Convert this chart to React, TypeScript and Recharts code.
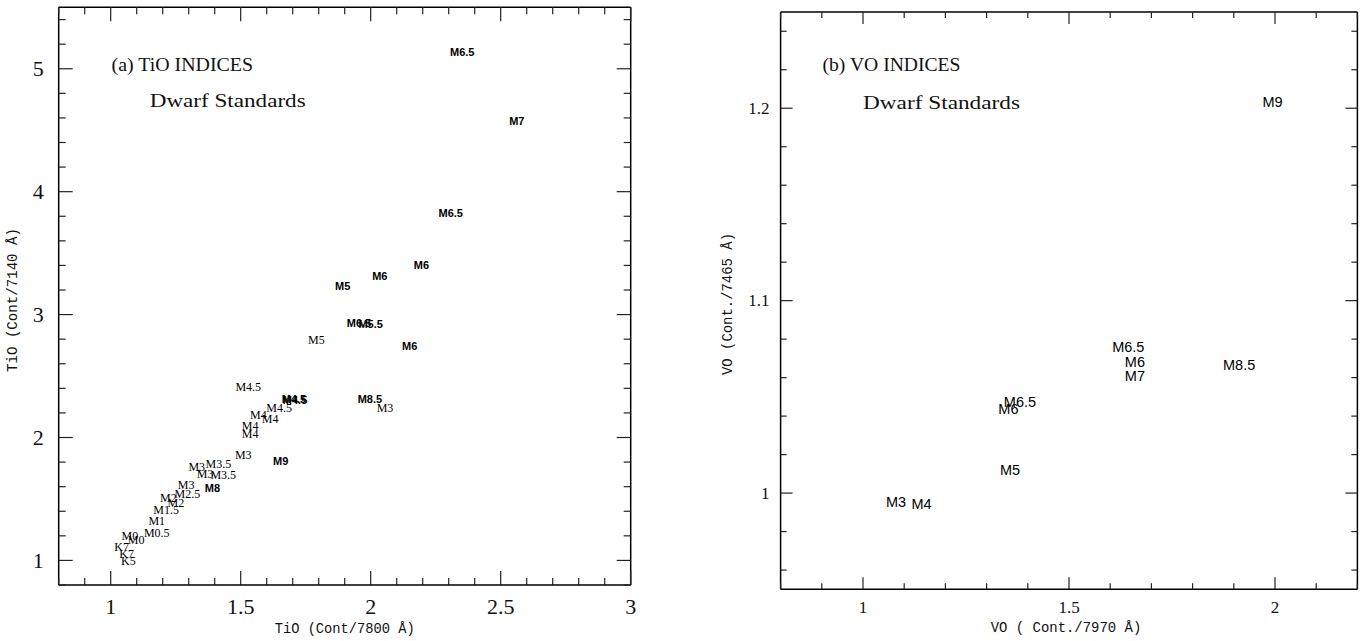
import React from "react";
import { ScatterChart, Scatter, XAxis, YAxis } from "recharts";

// (a) TiO indices, labels drawn in the bold sans face
const tioBoldTypes = ["M6.5", "M7", "M6.5", "M6", "M6", "M5", "M6.5", "M5.5", "M6", "M8.5", "M4.5", "M4.5", "M9", "M8"];
const tioBoldX = [2.352, 2.562, 2.308, 2.195, 2.035, 1.892, 1.955, 2.0, 2.15, 1.997, 1.705, 1.709, 1.654, 1.391];
const tioBoldY = [5.136, 4.571, 3.827, 3.406, 3.311, 3.23, 2.933, 2.922, 2.743, 2.317, 2.31, 2.304, 1.81, 1.592];

// (a) TiO indices, labels drawn in the serif face
const tioSerifTypes = ["M5", "M3", "M4.5", "M4.5", "M4", "M4", "M4", "M4", "M3", "M3", "M3.5", "M3", "M3.5", "M3", "M2.5", "M2", "M2", "M1.5", "M1", "M0.5", "M0", "M0", "K7", "K7", "K5"];
const tioSerifX = [1.791, 2.055, 1.529, 1.648, 1.568, 1.613, 1.536, 1.536, 1.51, 1.331, 1.414, 1.363, 1.433, 1.29, 1.295, 1.222, 1.251, 1.213, 1.177, 1.177, 1.074, 1.098, 1.042, 1.061, 1.068];
const tioSerifY = [2.792, 2.236, 2.412, 2.236, 2.181, 2.154, 2.094, 2.032, 1.855, 1.76, 1.782, 1.706, 1.692, 1.611, 1.538, 1.51, 1.467, 1.407, 1.32, 1.223, 1.196, 1.163, 1.108, 1.054, 0.995];

// (b) VO indices
const voTypes = ["M9", "M6.5", "M6", "M7", "M8.5", "M6.5", "M6", "M5", "M3", "M4"];
const voX = [1.994, 1.644, 1.66, 1.66, 1.913, 1.381, 1.353, 1.357, 1.08, 1.142];
const voY = [1.2033, 1.076, 1.068, 1.061, 1.0665, 1.0474, 1.0435, 1.012, 0.9955, 0.9943];

// axes
const tioXDomain = [0.8, 3];
const tioYDomain = [0.8, 5.5];
const tioXMajor = [1, 1.5, 2, 2.5, 3];
const tioYMajor = [1, 2, 3, 4, 5];
const voXDomain = [0.8, 2.2];
const voYDomain = [0.95, 1.25];
const voXMajor = [1, 1.5, 2];
const voYMajor = [1, 1.1, 1.2];

const range = (from: number, to: number, step: number) => {
  const out: number[] = [];
  for (let i = 0; from + i * step <= to + 1e-9; i++) out.push(Math.round((from + i * step) * 1000) / 1000);
  return out;
};
const tioXTicks = range(0.8, 3, 0.1);
const tioYTicks = range(0.8, 5.4, 0.2);
const voXTicks = range(0.8, 2.2, 0.1);
const voYTicks = range(0.96, 1.24, 0.02);

const zip = (types: string[], xs: number[], ys: number[]) =>
  types.map((type, i) => ({ type, x: xs[i], y: ys[i] }));

const tioBold = zip(tioBoldTypes, tioBoldX, tioBoldY);
const tioSerif = zip(tioSerifTypes, tioSerifX, tioSerifY);
const voData = zip(voTypes, voX, voY);

const SERIF = '"Liberation Serif", "DejaVu Serif", serif';
const SANS = '"Liberation Sans", Arial, sans-serif';
const MONO = '"Liberation Mono", "DejaVu Sans Mono", monospace';

type Side = "bottom" | "top" | "left" | "right";

// inward tick mark + optional label; the axis passes the point on the axis line
const makeTick =
  (side: Side, majors: number[], major: number, minor: number, fontSize = 0, gap = 0) =>
  (props: any) => {
    const x = Number(props.x);
    const y = Number(props.y);
    const v = props.payload.value;
    const isMajor = majors.some((m) => Math.abs(m - v) < 1e-6);
    const len = isMajor ? major : minor;
    const ln = { stroke: "#222", strokeWidth: 1.2 };
    let line;
    if (side === "bottom") line = <line x1={x} y1={y} x2={x} y2={y - len} {...ln} />;
    else if (side === "top") line = <line x1={x} y1={y} x2={x} y2={y + len} {...ln} />;
    else if (side === "left") line = <line x1={x} y1={y} x2={x + len} y2={y} {...ln} />;
    else line = <line x1={x} y1={y} x2={x - len} y2={y} {...ln} />;
    let label = null;
    if (isMajor && fontSize > 0) {
      const common = { fontFamily: SERIF, fontSize, fill: "#111", dominantBaseline: "central" as const, stroke: "none" };
      label =
        side === "bottom" ? (
          <text x={x} y={y + gap} textAnchor="middle" {...common}>{String(v)}</text>
        ) : (
          <text x={x - gap} y={y} textAnchor="end" {...common}>{String(v)}</text>
        );
    }
    return (
      <g>
        {line}
        {label}
      </g>
    );
  };

const labelShape = (style: React.SVGProps<SVGTextElement>) => (props: any) => (
  <text x={props.cx} y={props.cy} textAnchor="middle" dominantBaseline="central" fill="#000" {...style}>
    {props.payload.type}
  </text>
);

const hidden = () => <g />;

const axisLine = { stroke: "#000", strokeWidth: 1.5 };

const App: React.FC = () => {
  return (
    <div style={{ position: "absolute", left: 0, top: 0, width: 1365, height: 641, background: "#fff" }}>
      <div style={{ position: "absolute", left: 0, top: 0 }}>
        <ScatterChart width={660} height={641} margin={{ top: 6.3, left: 8.7, right: 28.3, bottom: 16 }}>
          <XAxis dataKey="x" type="number" domain={tioXDomain} allowDataOverflow ticks={tioXTicks} interval={0}
            height={40} tickSize={0} tickMargin={0} axisLine={axisLine} tickLine={false}
            tick={makeTick("bottom", tioXMajor, 14, 7, 22, 21)} />
          <XAxis xAxisId="top" dataKey="x" type="number" orientation="top" domain={tioXDomain} allowDataOverflow
            ticks={tioXTicks} interval={0} height={1} tickSize={0} tickMargin={0} axisLine={axisLine} tickLine={false}
            tick={makeTick("top", tioXMajor, 14, 7)} />
          <YAxis dataKey="y" type="number" domain={tioYDomain} allowDataOverflow ticks={tioYTicks} interval={0}
            width={50} tickSize={0} tickMargin={0} axisLine={axisLine} tickLine={false}
            tick={makeTick("left", tioYMajor, 14, 7, 22, 15)} />
          <YAxis yAxisId="right" dataKey="y" type="number" orientation="right" domain={tioYDomain} allowDataOverflow
            ticks={tioYTicks} interval={0} width={1} tickSize={0} tickMargin={0} axisLine={axisLine} tickLine={false}
            tick={makeTick("right", tioYMajor, 14, 7)} />
          <Scatter data={tioSerif} isAnimationActive={false}
            shape={labelShape({ fontFamily: SERIF, fontSize: 12 })} />
          <Scatter data={tioBold} isAnimationActive={false}
            shape={labelShape({ fontFamily: SANS, fontSize: 11, fontWeight: "bold" })} />
          <Scatter data={tioBold} xAxisId="top" yAxisId="right" isAnimationActive={false} shape={hidden} />
        </ScatterChart>
      </div>
      <div style={{ position: "absolute", left: 690, top: 0 }}>
        <ScatterChart width={675} height={641} margin={{ top: 11, left: 40.6, right: 6.6, bottom: 11.7 }}>
          <XAxis dataKey="x" type="number" domain={voXDomain} allowDataOverflow ticks={voXTicks} interval={0}
            height={40} tickSize={0} tickMargin={0} axisLine={axisLine} tickLine={false}
            tick={makeTick("bottom", voXMajor, 12, 6, 17, 18)} />
          <XAxis xAxisId="top" dataKey="x" type="number" orientation="top" domain={voXDomain} allowDataOverflow
            ticks={voXTicks} interval={0} height={1} tickSize={0} tickMargin={0} axisLine={axisLine} tickLine={false}
            tick={makeTick("top", voXMajor, 12, 6)} />
          <YAxis dataKey="y" type="number" domain={voYDomain} allowDataOverflow ticks={voYTicks} interval={0}
            width={50} tickSize={0} tickMargin={0} axisLine={axisLine} tickLine={false}
            tick={makeTick("left", voYMajor, 12, 6, 17, 11)} />
          <YAxis yAxisId="right" dataKey="y" type="number" orientation="right" domain={voYDomain} allowDataOverflow
            ticks={voYTicks} interval={0} width={1} tickSize={0} tickMargin={0} axisLine={axisLine} tickLine={false}
            tick={makeTick("right", voYMajor, 12, 6)} />
          <Scatter data={voData} isAnimationActive={false}
            shape={labelShape({ fontFamily: SANS, fontSize: 14.5 })} />
          <Scatter data={voData} xAxisId="top" yAxisId="right" isAnimationActive={false} shape={hidden} />
        </ScatterChart>
      </div>
      {/* panel captions and axis titles */}
      <svg width={1365} height={641} style={{ position: "absolute", left: 0, top: 0, pointerEvents: "none" }}>
        <g fontFamily={SERIF} fontSize={19.5} fill="#111" dominantBaseline="central">
          <text x={111.5} y={64} textLength={141.5} lengthAdjust="spacingAndGlyphs">(a) TiO INDICES</text>
          <text x={149.7} y={100.7} textLength={156} lengthAdjust="spacingAndGlyphs">Dwarf Standards</text>
          <text x={822.5} y={64} textLength={138} lengthAdjust="spacingAndGlyphs">(b) VO INDICES</text>
          <text x={863} y={102.7} textLength={157} lengthAdjust="spacingAndGlyphs">Dwarf Standards</text>
        </g>
        <g fontFamily={MONO} fontSize={13.8} fill="#111" textAnchor="middle" dominantBaseline="central">
          <text x={344.7} y={629} textLength={140} lengthAdjust="spacingAndGlyphs">TiO (Cont/7800 Å)</text>
          <text x={13} y={300} transform="rotate(-90 13 300)" textLength={144} lengthAdjust="spacingAndGlyphs">TiO (Cont/7140 Å)</text>
          <text x={1066} y={628} textLength={150.5} lengthAdjust="spacingAndGlyphs">VO ( Cont./7970 Å)</text>
          <text x={728} y={304} transform="rotate(-90 728 304)" textLength={142} lengthAdjust="spacingAndGlyphs">VO (Cont./7465 Å)</text>
        </g>
      </svg>
    </div>
  );
};

export default App;
